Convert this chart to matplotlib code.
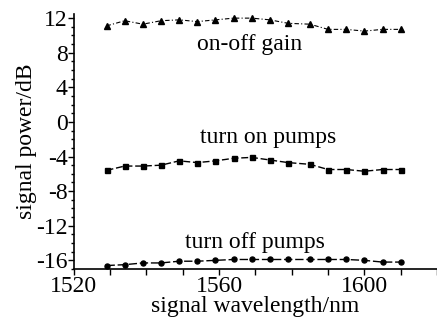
import matplotlib
matplotlib.use("Agg")
import matplotlib.pyplot as plt
from matplotlib.ticker import MultipleLocator

# signal wavelength (nm)
WAVELENGTH = [1529, 1534, 1539, 1544, 1549, 1554, 1559, 1564, 1569,
              1574, 1579, 1585, 1590, 1595, 1600, 1605, 1610]

# signal power (dB)
ON_OFF_GAIN = [11.1, 11.7, 11.3, 11.7, 11.8, 11.6, 11.8, 12.0, 12.0,
               11.8, 11.4, 11.3, 10.7, 10.7, 10.5, 10.7, 10.7]
TURN_ON = [-5.6, -5.1, -5.1, -5.0, -4.5, -4.7, -4.5, -4.2, -4.1,
           -4.4, -4.7, -4.9, -5.5, -5.5, -5.7, -5.5, -5.5]
TURN_OFF = [-16.6, -16.5, -16.3, -16.3, -16.1, -16.1, -16.0, -15.9, -15.9,
            -15.9, -15.9, -15.9, -15.9, -15.9, -16.0, -16.2, -16.2]

plt.rcParams["font.family"] = ["Liberation Serif", "DejaVu Serif"]
plt.rcParams["axes.unicode_minus"] = False
plt.rcParams["font.size"] = 17

fig = plt.figure(figsize=(4.37, 3.21), dpi=100)
ax = fig.add_axes([0.169, 0.162, 0.831, 0.795])

ax.plot(WAVELENGTH, ON_OFF_GAIN, color="black", lw=0.8, ls=(0, (4, 2, 1, 2)),
        marker="^", ms=4.5)
ax.plot(WAVELENGTH, TURN_ON, color="black", lw=1.0, ls=(0, (5, 2)),
        marker="s", ms=3.6)
ax.plot(WAVELENGTH, TURN_OFF, color="black", lw=1.0, ls=(0, (6, 2)),
        marker="o", ms=3.6)

ax.text(1568.5, 8.9, "on-off gain", ha="center", va="center", fontsize=17)
ax.text(1573.5, -1.8, "turn on pumps", ha="center", va="center", fontsize=17)
ax.text(1570, -13.9, "turn off pumps", ha="center", va="center", fontsize=17)

ax.set_xlim(1520, 1620)
ax.set_ylim(-17, 12.5)
ax.xaxis.set_major_locator(MultipleLocator(40))
ax.xaxis.set_minor_locator(MultipleLocator(10))
ax.yaxis.set_minor_locator(MultipleLocator(1))
ax.set_yticks([12, 8, 4, 0, -4, -8, -12, -16])

ax.spines["top"].set_visible(False)
ax.spines["right"].set_visible(False)
ax.spines["left"].set_linewidth(1.2)
ax.spines["bottom"].set_linewidth(1.2)
ax.tick_params(axis="x", which="both", direction="out", length=4, width=1, pad=1)
ax.tick_params(axis="y", which="major", direction="out", length=4.5, width=1, pad=0)
ax.tick_params(axis="y", which="minor", direction="out", length=2.5, width=1)

ax.set_xlabel("signal wavelength/nm", labelpad=-1)
ax.set_ylabel("signal power/dB", labelpad=-1)

fig.savefig("out.png", dpi=100)
